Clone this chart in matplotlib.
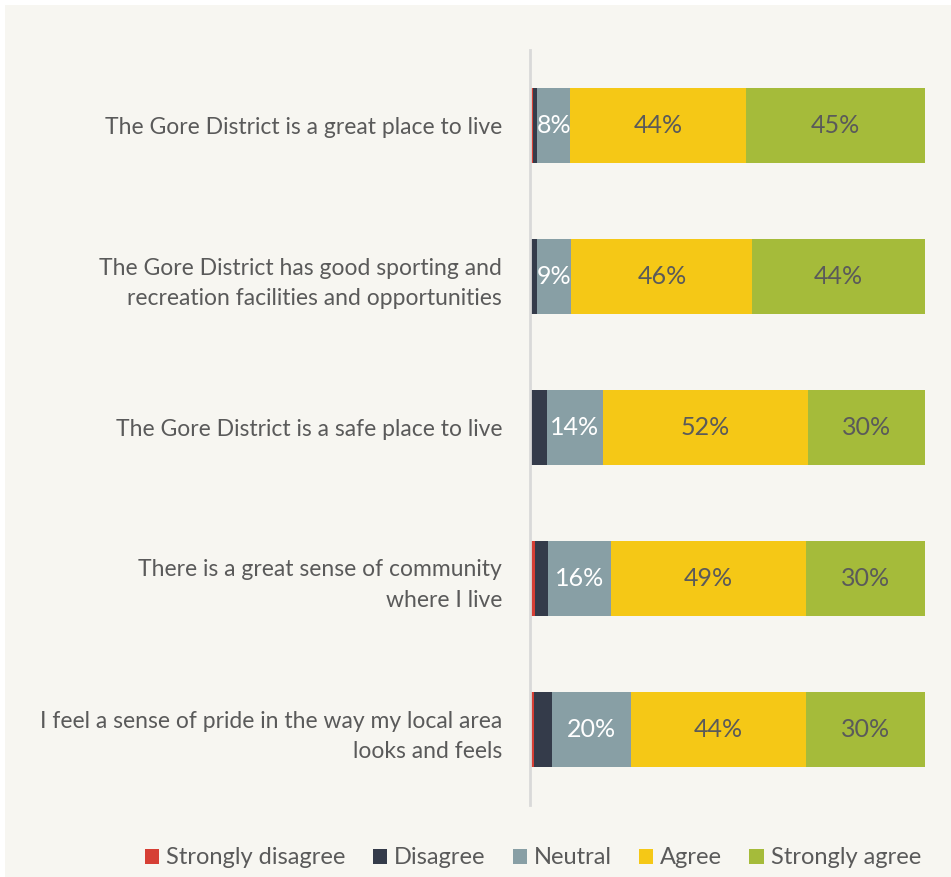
import matplotlib
matplotlib.use("Agg")
import matplotlib.pyplot as plt
from matplotlib.patches import Rectangle
import numpy as np

plt.rcParams['font.family'] = ['Lato', 'DejaVu Sans']

categories = [
    "The Gore District is a great place to live",
    "The Gore District has good sporting and\nrecreation facilities and opportunities",
    "The Gore District is a safe place to live",
    "There is a great sense of community\nwhere I live",
    "I feel a sense of pride in the way my local area\nlooks and feels",
]
series_names = ["Strongly disagree", "Disagree", "Neutral", "Agree", "Strongly agree"]
strongly_disagree = [0.8, 0.3, 0.3, 1.2, 0.9]
disagree = [1.0, 1.5, 3.9, 3.4, 4.6]
neutral = [8.4, 8.7, 14.2, 15.9, 20.0]
agree = [44.4, 45.8, 51.9, 49.4, 44.4]
strongly_agree = [45.4, 43.7, 29.7, 30.1, 30.1]
labelled = [False, False, True, True, True]

colors = ["#d63f35", "#343b4a", "#889fa5", "#f5c816", "#a5bb3a"]
label_colors = [None, None, "white", "#5a5a5a", "#5a5a5a"]
text_color = "#5a5a5a"
bg = "#f7f6f1"

W, H = 951, 877
fig = plt.figure(figsize=(W / 100, H / 100), dpi=100, facecolor="white")
fig.patches.append(Rectangle((5 / W, 0), 1, 1 - 5 / H, transform=fig.transFigure,
                             facecolor=bg, edgecolor="none", zorder=-10))

ax = fig.add_axes([530 / W, (H - 805) / H, 395 / W, 755 / H])
ax.set_facecolor("none")

data = [strongly_disagree, disagree, neutral, agree, strongly_agree]
y = np.arange(len(categories))
left = np.zeros(len(categories))
for vals, name, col, lcol, show in zip(data, series_names, colors, label_colors, labelled):
    vals = np.array(vals)
    ax.barh(y, vals, left=left, height=0.5, color=col, label=name, edgecolor="none")
    if show:
        for yi, (l, v) in enumerate(zip(left, vals)):
            ax.text(l + v / 2, yi, f"{v:.0f}%", ha="center", va="center",
                    color=lcol, fontsize=18)
    left += vals

ax.set_xlim(0, 100)
ax.set_ylim(len(categories) - 0.5, -0.5)
for s in ["top", "right", "bottom"]:
    ax.spines[s].set_visible(False)
ax.spines["left"].set_color("#d9d9d9")
ax.spines["left"].set_linewidth(2)
ax.set_xticks([])
ax.set_yticks(y)
ax.set_yticklabels(categories, fontsize=16.5, color=text_color, linespacing=1.55)
ax.tick_params(axis="y", length=0, pad=20)

handles, labels = ax.get_legend_handles_labels()
leg = fig.legend(handles, labels, loc="center", ncol=5,
                 bbox_to_anchor=(533 / W, (H - 858) / H), frameon=False,
                 fontsize=17, handlelength=0.6, handleheight=0.6,
                 handletextpad=0.3, columnspacing=1.15)
for t in leg.get_texts():
    t.set_color(text_color)

fig.savefig("out.png", dpi=100, facecolor=fig.get_facecolor())
